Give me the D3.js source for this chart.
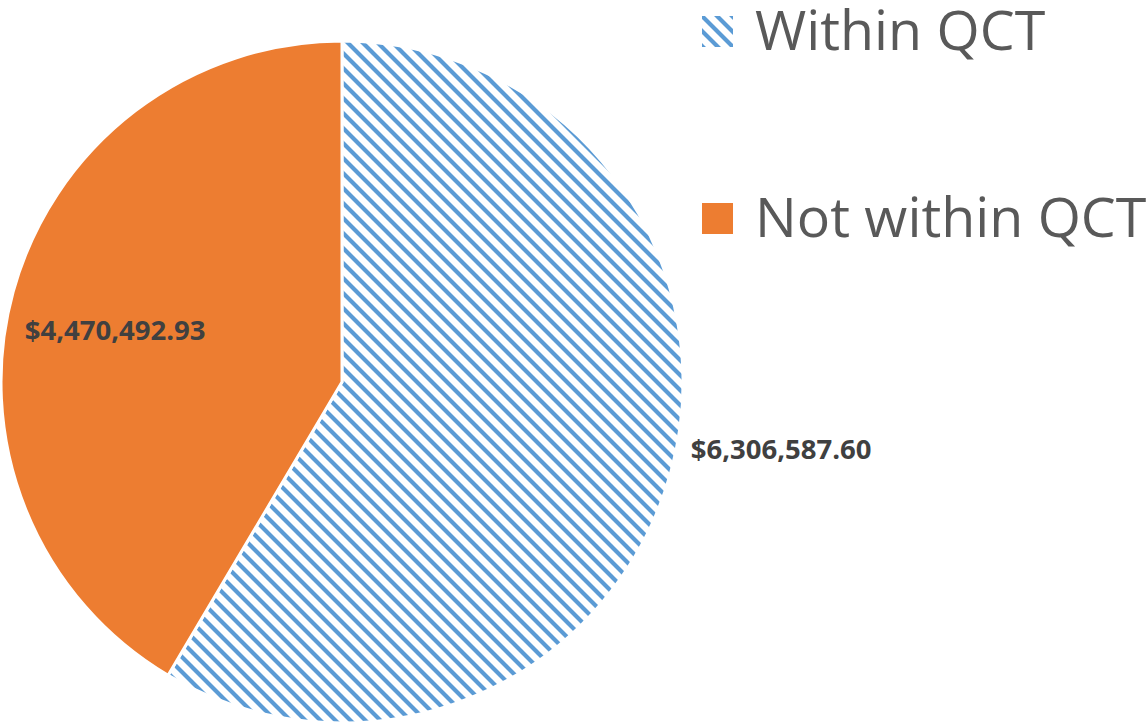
<!DOCTYPE html>
<html>
<head>
<meta charset="utf-8">
<script src="https://cdn.jsdelivr.net/npm/d3@7"></script>
<style>
  html, body { margin: 0; padding: 0; background: #ffffff; }
  svg { display: block; }
</style>
</head>
<body>
<svg id="chart" width="1147" height="725"></svg>
<script>
// Funding split by Qualified Census Tract status
const categories = ["Within QCT", "Not within QCT"];
const amounts = [6306587.60, 4470492.93];
const valueLabels = ["$6,306,587.60", "$4,470,492.93"];

const W = 1147, H = 725;
const cx = 342, cy = 382, R = 341;
const blue = "#5B9BD5", orange = "#ED7D31";

const svg = d3.select("#chart");
const defs = svg.append("defs");

// Wide downward-diagonal hatch used for the first series
const pat = defs.append("pattern")
  .attr("id", "hatch")
  .attr("patternUnits", "userSpaceOnUse")
  .attr("width", 15).attr("height", 15);
pat.append("rect").attr("width", 15).attr("height", 15).attr("fill", "#ffffff");
pat.append("path")
  .attr("d", "M-4,-4 L19,19 M-4,11 L4,19 M11,-4 L19,4")
  .attr("stroke", blue)
  .attr("stroke-width", 4.2)
  .attr("fill", "none");

const data = categories.map((c, i) => ({ name: c, value: amounts[i], label: valueLabels[i] }));
const fills = d3.scaleOrdinal().domain(categories).range(["url(#hatch)", orange]);

const pie = d3.pie().value(d => d.value).sort(null);
const arcs = pie(data);
const arc = d3.arc().innerRadius(0).outerRadius(R);

const g = svg.append("g").attr("transform", `translate(${cx},${cy})`);

g.selectAll("path.slice")
  .data(arcs)
  .enter().append("path")
  .attr("class", "slice")
  .attr("d", arc)
  .attr("fill", d => fills(d.data.name))
  .attr("stroke", "#ffffff")
  .attr("stroke-width", 3)
  .attr("stroke-linejoin", "round");

// Data labels: inside for the orange slice, outside for the hatched one
const innerLabelArc = d3.arc().innerRadius(R * 0.69).outerRadius(R * 0.69);
const labelFont = "'Open Sans', 'DejaVu Sans', sans-serif";
const labelSize = 27.5;

arcs.forEach((d, i) => {
  if (i === 1) {
    const [x, y] = innerLabelArc.centroid(d);
    g.append("text")
      .attr("x", x).attr("y", y + 10)
      .attr("text-anchor", "middle")
      .attr("dominant-baseline", "central")
      .attr("font-family", labelFont)
      .attr("font-weight", 700)
      .attr("font-size", labelSize)
      .attr("fill", "#404040")
      .text(d.data.label);
  } else {
    const mid = (d.startAngle + d.endAngle) / 2 - 4.6 * Math.PI / 180;
    const r = R + 14;
    const x = r * Math.sin(mid), y = -r * Math.cos(mid);
    g.append("text")
      .attr("x", x).attr("y", y)
      .attr("text-anchor", "start")
      .attr("dominant-baseline", "central")
      .attr("font-family", labelFont)
      .attr("font-weight", 700)
      .attr("font-size", labelSize)
      .attr("fill", "#404040")
      .text(d.data.label);
  }
});

// Legend
const legend = svg.append("g").attr("transform", "translate(702,16)");
const rowGap = 187;
const items = legend.selectAll("g.item")
  .data(categories)
  .enter().append("g")
  .attr("class", "item")
  .attr("transform", (d, i) => `translate(0,${i * rowGap})`);

items.append("rect")
  .attr("width", 31).attr("height", 31)
  .attr("fill", d => fills(d));

items.append("text")
  .attr("x", 53)
  .attr("y", 34)
  .attr("font-family", "'Open Sans', 'DejaVu Sans', sans-serif")
  .attr("font-size", 55.5)
  .attr("fill", "#595959")
  .text(d => d);
</script>
</body>
</html>
